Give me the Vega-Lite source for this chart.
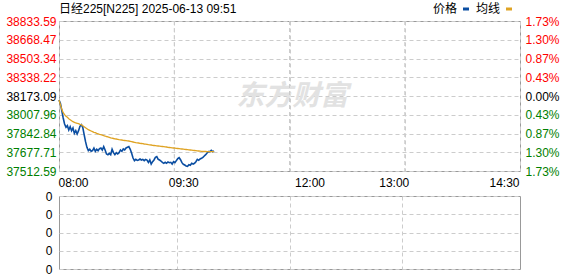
{
  "$schema": "https://vega.github.io/schema/vega-lite/v6.json",
  "padding": {"left": 5, "top": 2, "right": 0, "bottom": 0},
  "background": "white",
  "spacing": 0,
  "config": {
    "font": "Liberation Sans, Noto Sans CJK SC",
    "view": {"stroke": "#999999", "strokeWidth": 1},
    "axis": {"labelFont": "Liberation Sans", "labelFontSize": 12, "ticks": false, "domain": false, "gridColor": "#cccccc", "gridDash": [4, 3], "gridWidth": 1, "title": null, "labelColor": "#000000"},
    "legend": {"orient": "none", "legendX": 401, "legendY": -18, "direction": "horizontal", "title": null, "symbolType": "M-1,0H1", "symbolSize": 36, "symbolStrokeWidth": 3, "labelFontSize": 12, "labelFont": "Liberation Sans, Noto Sans CJK SC", "labelAlign": "right", "labelOffset": -15, "columnPadding": 0, "padding": 0, "labelColor": "#000000"}
  },
  "datasets": {
    "m": [
      {"t":0,"price":38137.9,"avg":38137.9,"vol":0},{"t":1,"price":38108.5,"avg":38096.8,"vol":0},{"t":2,"price":38043.9,"avg":38055.7,"vol":0},{"t":3,"price":37979.3,"avg":38026.3,"vol":0},{"t":4,"price":37926.5,"avg":38008.7,"vol":0},{"t":5,"price":37897.1,"avg":37994.0,"vol":0},{"t":6,"price":37911.8,"avg":37985.2,"vol":0},{"t":7,"price":37873.7,"avg":37973.5,"vol":0},{"t":8,"price":37903.0,"avg":37964.7,"vol":0},{"t":9,"price":37867.8,"avg":37955.9,"vol":0},
      {"t":10,"price":37891.3,"avg":37947.0,"vol":0},{"t":11,"price":37844.3,"avg":37941.2,"vol":0},{"t":12,"price":37867.8,"avg":37935.3,"vol":0},{"t":13,"price":37838.4,"avg":37932.4,"vol":0},{"t":14,"price":37867.8,"avg":37929.4,"vol":0},{"t":15,"price":37905.9,"avg":37923.6,"vol":0},{"t":16,"price":37920.6,"avg":37920.6,"vol":0},{"t":17,"price":37897.1,"avg":37911.8,"vol":0},{"t":18,"price":37832.6,"avg":37903.0,"vol":0},{"t":19,"price":37770.9,"avg":37894.2,"vol":0},
      {"t":20,"price":37721.0,"avg":37885.4,"vol":0},{"t":21,"price":37691.7,"avg":37876.6,"vol":0},{"t":22,"price":37703.4,"avg":37870.7,"vol":0},{"t":23,"price":37685.8,"avg":37864.9,"vol":0},{"t":24,"price":37691.7,"avg":37859.0,"vol":0},{"t":25,"price":37715.1,"avg":37853.1,"vol":0},{"t":26,"price":37685.8,"avg":37850.2,"vol":0},{"t":27,"price":37703.4,"avg":37844.3,"vol":0},{"t":28,"price":37691.7,"avg":37839.9,"vol":0},{"t":29,"price":37709.3,"avg":37835.5,"vol":0},
      {"t":30,"price":37715.1,"avg":37832.6,"vol":0},{"t":31,"price":37697.5,"avg":37828.1,"vol":0},{"t":32,"price":37726.9,"avg":37823.8,"vol":0},{"t":33,"price":37697.5,"avg":37820.8,"vol":0},{"t":34,"price":37662.3,"avg":37816.4,"vol":0},{"t":35,"price":37656.4,"avg":37813.5,"vol":0},{"t":36,"price":37668.2,"avg":37809.1,"vol":0},{"t":37,"price":37656.4,"avg":37804.7,"vol":0},{"t":38,"price":37703.4,"avg":37801.7,"vol":0},{"t":39,"price":37674.0,"avg":37798.8,"vol":0},
      {"t":40,"price":37656.4,"avg":37795.9,"vol":0},{"t":41,"price":37674.0,"avg":37794.4,"vol":0},{"t":42,"price":37662.3,"avg":37791.5,"vol":0},{"t":43,"price":37674.0,"avg":37788.5,"vol":0},{"t":44,"price":37697.5,"avg":37787.1,"vol":0},{"t":45,"price":37685.8,"avg":37785.6,"vol":0},{"t":46,"price":37706.3,"avg":37782.7,"vol":0},{"t":47,"price":37697.5,"avg":37781.2,"vol":0},{"t":48,"price":37715.1,"avg":37779.7,"vol":0},{"t":49,"price":37721.0,"avg":37778.3,"vol":0},
      {"t":50,"price":37726.9,"avg":37776.8,"vol":0},{"t":51,"price":37703.4,"avg":37773.9,"vol":0},{"t":52,"price":37668.2,"avg":37771.0,"vol":0},{"t":53,"price":37627.1,"avg":37768.0,"vol":0},{"t":54,"price":37603.6,"avg":37765.1,"vol":0},{"t":55,"price":37615.3,"avg":37762.2,"vol":0},{"t":56,"price":37606.5,"avg":37760.7,"vol":0},{"t":57,"price":37609.5,"avg":37759.2,"vol":0},{"t":58,"price":37618.3,"avg":37756.3,"vol":0},{"t":59,"price":37609.5,"avg":37754.8,"vol":0},
      {"t":60,"price":37615.3,"avg":37753.3,"vol":0},{"t":61,"price":37603.6,"avg":37750.4,"vol":0},{"t":62,"price":37615.3,"avg":37749.0,"vol":0},{"t":63,"price":37609.5,"avg":37747.5,"vol":0},{"t":64,"price":37588.9,"avg":37744.5,"vol":0},{"t":65,"price":37609.5,"avg":37743.1,"vol":0},{"t":66,"price":37574.2,"avg":37741.6,"vol":0},{"t":67,"price":37594.8,"avg":37738.7,"vol":0},{"t":68,"price":37609.5,"avg":37737.2,"vol":0},{"t":69,"price":37632.9,"avg":37735.7,"vol":0},
      {"t":70,"price":37638.8,"avg":37734.3,"vol":0},{"t":71,"price":37615.3,"avg":37732.8,"vol":0},{"t":72,"price":37609.5,"avg":37731.3,"vol":0},{"t":73,"price":37600.6,"avg":37729.8,"vol":0},{"t":74,"price":37588.9,"avg":37728.4,"vol":0},{"t":75,"price":37580.1,"avg":37726.9,"vol":0},{"t":76,"price":37588.9,"avg":37725.5,"vol":0},{"t":77,"price":37580.1,"avg":37724.0,"vol":0},{"t":78,"price":37591.9,"avg":37721.0,"vol":0},{"t":79,"price":37586.0,"avg":37719.6,"vol":0},
      {"t":80,"price":37588.9,"avg":37718.1,"vol":0},{"t":81,"price":37574.2,"avg":37716.6,"vol":0},{"t":82,"price":37594.8,"avg":37715.1,"vol":0},{"t":83,"price":37586.0,"avg":37713.7,"vol":0},{"t":84,"price":37603.6,"avg":37712.2,"vol":0},{"t":85,"price":37621.2,"avg":37710.7,"vol":0},{"t":86,"price":37630.0,"avg":37709.3,"vol":0},{"t":87,"price":37612.4,"avg":37707.8,"vol":0},{"t":88,"price":37586.0,"avg":37706.3,"vol":0},{"t":89,"price":37571.3,"avg":37704.9,"vol":0},
      {"t":90,"price":37565.4,"avg":37703.4,"vol":0},{"t":91,"price":37556.6,"avg":37701.9,"vol":0},{"t":92,"price":37553.7,"avg":37700.4,"vol":0},{"t":93,"price":37568.3,"avg":37699.0,"vol":0},{"t":94,"price":37562.5,"avg":37697.5,"vol":0},{"t":95,"price":37580.1,"avg":37696.0,"vol":0},{"t":96,"price":37574.2,"avg":37694.6,"vol":0},{"t":97,"price":37580.1,"avg":37693.1,"vol":0},{"t":98,"price":37594.8,"avg":37691.6,"vol":0},{"t":99,"price":37615.3,"avg":37690.2,"vol":0},
      {"t":100,"price":37606.5,"avg":37688.7,"vol":0},{"t":101,"price":37618.3,"avg":37687.2,"vol":0},{"t":102,"price":37624.1,"avg":37685.8,"vol":0},{"t":103,"price":37632.9,"avg":37685.8,"vol":0},{"t":104,"price":37644.7,"avg":37684.3,"vol":0},{"t":105,"price":37656.4,"avg":37684.3,"vol":0},{"t":106,"price":37671.1,"avg":37682.8,"vol":0},{"t":107,"price":37682.8,"avg":37682.8,"vol":0},{"t":108,"price":37682.8,"avg":37682.8,"vol":0},{"t":109,"price":37694.6,"avg":37682.8,"vol":0},
      {"t":110,"price":37682.8,"avg":37682.8,"vol":0},{"t":111,"price":37688.7,"avg":37682.8,"vol":0}
    ]
  },
  "vconcat": [
    {
      "width": 461,
      "height": 150,
      "title": {"text": "日经225[N225] 2025-06-13 09:51", "anchor": "start", "frame": "group", "fontSize": 12, "fontWeight": "normal", "font": "Liberation Sans, Noto Sans CJK SC", "offset": -1, "color": "#000000"},
      "data": {"name": "m"},
      "encoding": {
        "x": {
          "field": "t", "type": "quantitative",
          "scale": {"domain": [0, 330], "nice": false, "zero": false},
          "axis": {
            "values": [0, 82.5, 165, 247.5, 330],
            "grid": true,
            "labelExpr": "datum.value == 0 ? '08:00' : datum.value == 82.5 ? '09:30' : datum.value == 165 ? '12:00' : datum.value == 247.5 ? '13:00' : '14:30'",
            "labelFlush": true,
            "labelOverlap": false,
            "labelPadding": 6,
            "labelOffset": {"condition": [{"test": "datum.value == 82.5", "value": 9}, {"test": "datum.value == 165", "value": 20}, {"test": "datum.value == 247.5", "value": -11}], "value": -1}
          }
        }
      },
      "layer": [
        {
          "transform": [{"filter": "datum.t == 0"}],
          "mark": {"type": "text", "fontSize": 28, "fontWeight": "bold", "fontStyle": "italic", "font": "Noto Sans CJK SC", "color": "#e2e2e2", "text": "东方财富", "dy": 1},
          "encoding": {
            "x": {"datum": 167, "type": "quantitative"},
            "y": {"datum": 38173, "type": "quantitative", "scale": {"domain": [37512.59, 38833.59], "nice": false, "zero": false}, "axis": null}
          }
        },
        {
          "transform": [{"filter": "datum.t == 0"}],
          "mark": {"type": "rule", "color": "#cccccc", "strokeDash": [4, 3], "strokeWidth": 1},
          "encoding": {"x": {"datum": 82.5, "type": "quantitative"}}
        },
        {
          "transform": [{"filter": "datum.t == 0"}],
          "mark": {"type": "rule", "color": "#cccccc", "strokeDash": [4, 3], "strokeWidth": 1},
          "encoding": {"x": {"datum": 165, "type": "quantitative"}}
        },
        {
          "transform": [{"filter": "datum.t == 0"}],
          "mark": {"type": "rule", "color": "#cccccc", "strokeDash": [4, 3], "strokeWidth": 1},
          "encoding": {"x": {"datum": 247.5, "type": "quantitative"}}
        },
        {
          "mark": {"type": "line", "strokeWidth": 1.6, "interpolate": "linear"},
          "encoding": {
            "y": {
              "field": "price", "type": "quantitative",
              "axis": {
                "orient": "left",
                "values": [37512.59, 37677.71, 37842.84, 38007.96, 38173.09, 38338.22, 38503.34, 38668.47, 38833.59],
                "format": ".2f",
                "grid": true,
                "labelPadding": 3,
                "labelColor": {"condition": [{"test": "datum.value > 38174", "value": "#ff0000"}, {"test": "datum.value > 38172", "value": "#000000"}], "value": "#008000"}
              }
            },
            "color": {"datum": "价格", "scale": {"domain": ["价格", "均线"], "range": ["#0b4ea2", "#dfa323"]}}
          }
        },
        {
          "mark": {"type": "line", "strokeWidth": 1.3},
          "encoding": {
            "y": {
              "field": "avg", "type": "quantitative",
              "axis": {
                "orient": "right",
                "values": [37512.59, 37677.71, 37842.84, 38007.96, 38173.09, 38338.22, 38503.34, 38668.47, 38833.59],
                "labelExpr": "format(abs(datum.value - 38173.09) / 38173.09 * 100, '.2f') + '%'",
                "grid": false,
                "labelPadding": 5,
                "labelColor": {"condition": [{"test": "datum.value > 38174", "value": "#ff0000"}, {"test": "datum.value > 38172", "value": "#000000"}], "value": "#008000"}
              }
            },
            "color": {"datum": "均线"}
          }
        }
      ],
      "resolve": {"axis": {"y": "independent"}}
    },
    {
      "width": 461,
      "height": 73,
      "data": {"name": "m"},
      "mark": {"type": "bar", "color": "#0b4ea2"},
      "encoding": {
        "x": {
          "field": "t", "type": "quantitative",
          "scale": {"domain": [0, 330], "nice": false, "zero": false},
          "axis": {"values": [82.5, 165, 247.5], "labels": false, "grid": true}
        },
        "y": {
          "field": "vol", "type": "quantitative",
          "scale": {"domain": [0, 4], "nice": false},
          "axis": {"values": [0, 1, 2, 3, 4], "labelExpr": "'0'", "grid": true, "labelPadding": 7}
        }
      }
    }
  ]
}
